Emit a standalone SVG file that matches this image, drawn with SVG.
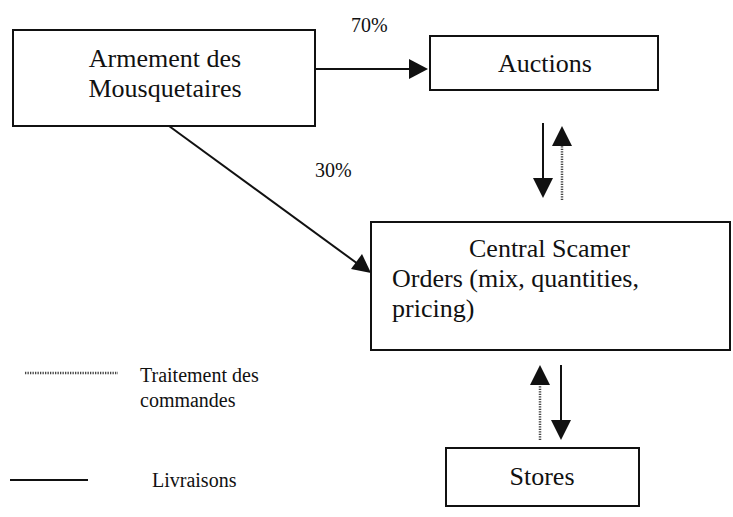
<svg xmlns="http://www.w3.org/2000/svg" width="733" height="517" viewBox="0 0 733 517">
<style>
.box{fill:#fff;stroke:#111;stroke-width:2}
.t{font-family:"Liberation Serif","Times New Roman",serif;fill:#111}
.big{font-size:26px}
.sm{font-size:20px}
.solid{stroke:#111;stroke-width:2;fill:none}
.dot{stroke:#444;stroke-width:2.5;stroke-dasharray:1.3 1.2;fill:none}
.head{fill:#111}
</style>
<rect width="733" height="517" fill="#fff"/>
<g id="armement">
<rect class="box" x="13" y="30" width="302" height="96"/>
<text class="t big" x="165" y="67" text-anchor="middle">Armement des</text>
<text class="t big" x="165" y="97" text-anchor="middle">Mousquetaires</text>
</g>
<g id="auctions">
<rect class="box" x="430" y="36" width="228" height="54"/>
<text class="t big" x="545" y="72" text-anchor="middle">Auctions</text>
</g>
<g id="central">
<rect class="box" x="371" y="222" width="359" height="128"/>
<text class="t big" x="469" y="257">Central Scamer</text>
<text class="t big" x="392" y="287">Orders (mix, quantities,</text>
<text class="t big" x="392" y="317">pricing)</text>
</g>
<g id="stores">
<rect class="box" x="446" y="448" width="193" height="58"/>
<text class="t big" x="542" y="485" text-anchor="middle">Stores</text>
</g>
<g id="connectors">
<line class="solid" x1="315" y1="69" x2="412" y2="69"/>
<polygon class="head" points="428,69 409,59 409,79"/>
<line class="solid" x1="169" y1="126" x2="358" y2="264"/>
<polygon class="head" points="371,273 351,269 362,254"/>
<line class="solid" x1="543" y1="123" x2="543" y2="182"/>
<polygon class="head" points="543,198 533,178 553,178"/>
<line class="dot" x1="562" y1="200" x2="562" y2="142"/>
<polygon class="head" points="562,126 552,146 572,146"/>
<line class="dot" x1="540" y1="440" x2="540" y2="382"/>
<polygon class="head" points="540,365 530,385 550,385"/>
<line class="solid" x1="561" y1="365" x2="561" y2="424"/>
<polygon class="head" points="561,440 551,420 571,420"/>
</g>
<g id="labels">
<text class="t sm" x="351" y="32">70%</text>
<text class="t sm" x="315" y="177">30%</text>
</g>
<g id="legend">
<line class="dot" x1="25" y1="373" x2="118" y2="373"/>
<text class="t sm" x="140" y="382">Traitement des</text>
<text class="t sm" x="140" y="407">commandes</text>
<line class="solid" x1="10" y1="480" x2="88" y2="480"/>
<text class="t sm" x="152" y="487">Livraisons</text>
</g>
</svg>
